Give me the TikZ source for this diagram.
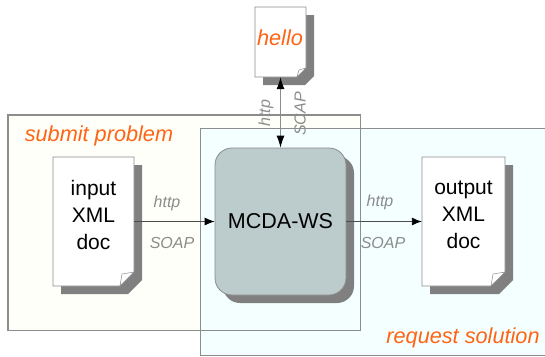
\documentclass[tikz,border=0pt]{standalone}
\usepackage{fontspec}
\setmainfont{Liberation Sans}
\usetikzlibrary{arrows.meta}

\definecolor{shadowgray}{HTML}{808080}
\definecolor{linegray}{HTML}{8C8C8C}
\definecolor{labelorange}{HTML}{FF6414}
\definecolor{wsfill}{HTML}{BCCBCB}
\definecolor{submitfill}{HTML}{FFFFF9}
\definecolor{requestfill}{HTML}{F4FFFF}

\tikzset{
    panel/.style={draw=linegray, line width=0.8pt, rectangle, inner sep=0pt},
    pagebox/.style={rectangle, inner sep=0pt},
    doctext/.style={align=center, font=\fontsize{21}{27}\selectfont},
    titletext/.style={text=labelorange, font=\fontsize{21.7}{24}\selectfont\itshape},
    protocol/.style={text=linegray, font=\fontsize{16}{18}\selectfont\itshape},
    link/.style={-{Latex[length=10pt,width=8pt,color=black]}, line width=0.9pt, draw=black!70}
}

% page with a cut corner: left, top, right, bottom, size of the cut
\newcommand{\docpage}[5]{
    \fill[shadowgray] (#1+8,#2+8) -- (#3+8,#2+8) -- (#3+8,#4-#5+8) -- (#3-#5+8,#4+8) -- (#1+8,#4+8) -- cycle;
    \draw[fill=white, draw=linegray, line width=0.8pt] (#1,#2) -- (#3,#2) -- (#3,#4-#5) -- (#3-#5,#4) -- (#1,#4) -- cycle;
    \draw[fill=white, draw=linegray, line width=0.5pt] (#3,#4-#5) -- (#3-#5,#4) -- (#3-#5+2,#4-#5+2) -- cycle;
}

\begin{document}
\begin{tikzpicture}[x=1pt, y=-1pt]
    \clip (0,0) rectangle (545,356);
    \useasboundingbox (0,0) rectangle (545,356);

    % Areas
    \node[panel, fill=submitfill, minimum width=352pt, minimum height=215pt] (submit) at (184, 222.5) {};
    \node[panel, fill=requestfill, minimum width=350pt, minimum height=227pt] (request) at (375, 241.5) {};
    \draw[draw=linegray, line width=0.8pt] (submit.north west) rectangle (submit.south east);

    % Documents
    \docpage{53}{157}{134}{286}{14}
    \docpage{422}{157}{505}{286}{14}
    \docpage{255}{7}{306}{77}{9}
    \node[pagebox, minimum width=81pt, minimum height=129pt] (input) at (93.5, 221.5) {};
    \node[pagebox, minimum width=83pt, minimum height=129pt] (output) at (463.5, 221.5) {};
    \node[pagebox, minimum width=51pt, minimum height=70pt] (hello) at (280.5, 42) {};

    % Web service
    \fill[shadowgray, rounded corners=17pt] (223,156) rectangle (354,303);
    \node[draw=linegray, fill=wsfill, line width=0.8pt, rectangle, rounded corners=17pt, minimum width=131pt, minimum height=147pt, font=\fontsize{21.5}{24}\selectfont] (mcda) at (280.5, 221.5) {MCDA-WS};

    % Connections
    \draw[link] (input) -- (mcda);
    \draw[link] (mcda) -- (output);
    \draw[{Latex[length=12pt,width=8pt,color=black]}-{Latex[length=12pt,width=8pt,color=black]}, line width=0.9pt, draw=linegray] (hello) -- (mcda);

    % Labels
    \node[doctext] (inputtext) at (93.5, 215) {input\\XML\\doc};
    \node[doctext] (outputtext) at (463.5, 215) {output\\XML\\doc};
    \node[titletext] (hellotext) at (280, 38) {hello};
    \node[titletext] (submittext) at (99, 136) {submit problem};
    \node[titletext] (requesttext) at (463, 338) {request solution};

    \node[protocol] (httpa) at (167, 203) {http};
    \node[protocol] (soapa) at (172, 243) {SOAP};
    \node[protocol] (httpb) at (380, 202) {http};
    \node[protocol] (soapb) at (383, 243) {SOAP};
    \node[protocol, rotate=90] (httpc) at (266, 113) {http};
    \node[protocol, rotate=90] (soapc) at (300, 114) {SCAP};
\end{tikzpicture}
\end{document}
